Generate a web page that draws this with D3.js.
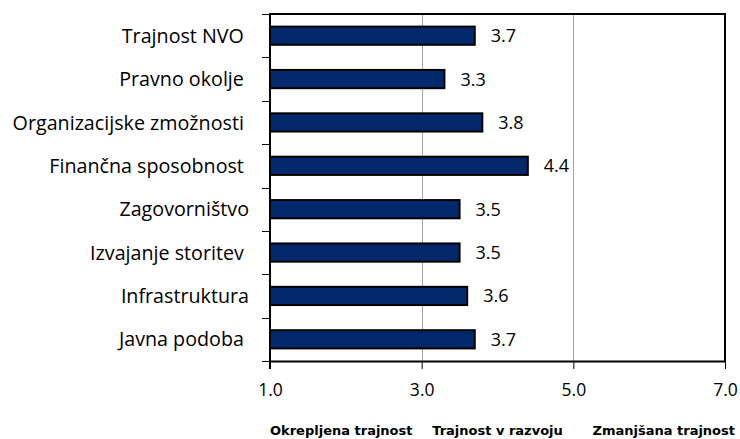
<!DOCTYPE html>
<html>
<head>
<meta charset="utf-8">
<script src="https://cdn.jsdelivr.net/npm/d3@7"></script>
<style>
  html, body { margin: 0; padding: 0; background: #ffffff; }
  svg { display: block; }
  text { font-family: "Open Sans", Lato, sans-serif; fill: #000; }
</style>
</head>
<body>
<svg id="chart" width="740" height="439"></svg>
<script>
// ---- data ----
const categories = [
  "Trajnost NVO ",
  "Pravno okolje ",
  "Organizacijske zmožnosti ",
  "Finančna sposobnost ",
  "Zagovorništvo",
  "Izvajanje storitev ",
  "Infrastruktura",
  "Javna podoba "
];
const values = [3.7, 3.3, 3.8, 4.4, 3.5, 3.5, 3.6, 3.7];
const xTicks = [1.0, 3.0, 5.0, 7.0];
const xDomain = [1, 7];
const bandLabels = ["Okrepljena trajnost", "Trajnost v razvoju", "Zmanjšana trajnost"];

(function () {
  const svg = d3.select("#chart");
  const pLeft = 270, pRight = 725, pTop = 14, pBottom = 361;

  const x = d3.scaleLinear().domain(xDomain).range([pLeft, pRight]);
  const y = d3.scaleBand().domain(categories).range([pTop, pBottom])
    .paddingInner(0.58).paddingOuter(0.29);

  // gridlines (inner ticks)
  svg.append("g")
    .selectAll("line")
    .data(xTicks.filter(t => t > xDomain[0] && t < xDomain[1]))
    .join("line")
    .attr("x1", d => Math.round(x(d)) + 0.5).attr("x2", d => Math.round(x(d)) + 0.5)
    .attr("y1", pTop).attr("y2", pBottom)
    .attr("stroke", "#a6a6a6").attr("stroke-width", 1);

  // frame: top and right
  svg.append("path")
    .attr("d", `M${pLeft},${pTop}H${pRight}V${pBottom}`)
    .attr("fill", "none").attr("stroke", "#000").attr("stroke-width", 2);

  // bars
  svg.append("g")
    .selectAll("rect")
    .data(values)
    .join("rect")
    .attr("x", x(xDomain[0]))
    .attr("y", (d, i) => y(categories[i]))
    .attr("width", d => x(d) - x(xDomain[0]))
    .attr("height", y.bandwidth())
    .attr("fill", "#03296d")
    .attr("stroke", "#000")
    .attr("stroke-width", 2);

  // value labels
  svg.append("g")
    .selectAll("text")
    .data(values)
    .join("text")
    .attr("x", d => x(d) + 16)
    .attr("y", (d, i) => y(categories[i]) + y.bandwidth() / 2)
    .attr("dy", "0.36em")
    .attr("font-size", 18)
    .text(d => d3.format(".1f")(d));

  // x axis
  const xAxis = svg.append("g")
    .attr("transform", `translate(0,${pBottom})`)
    .call(d3.axisBottom(x).tickValues(xTicks).tickFormat(d3.format(".1f")).tickSize(8).tickSizeOuter(0));
  xAxis.select(".domain").attr("stroke", "#000").attr("stroke-width", 2);
  xAxis.selectAll(".tick line").attr("stroke", "#000").attr("stroke-width", 1);
  xAxis.selectAll(".tick text")
    .attr("y", 35).attr("dy", 0)
    .attr("font-size", 17.5)
    .style("font-family", "'Open Sans', Lato, sans-serif")
    .attr("fill", "#000");

  // y axis (left) with ticks at category boundaries
  const yAxisG = svg.append("g");
  yAxisG.append("line")
    .attr("x1", pLeft).attr("x2", pLeft).attr("y1", pTop - 1).attr("y2", pBottom + 8)
    .attr("stroke", "#000").attr("stroke-width", 2);
  const step = y.step();
  const boundaries = d3.range(categories.length + 1).map(i => y.range()[0] + i * step);
  yAxisG.selectAll("line.tk")
    .data(boundaries)
    .join("line")
    .attr("class", "tk")
    .attr("x1", pLeft - 8).attr("x2", pLeft)
    .attr("y1", d => Math.round(d) + 0.5).attr("y2", d => Math.round(d) + 0.5)
    .attr("stroke", "#000").attr("stroke-width", 1);

  // category labels
  svg.append("g")
    .selectAll("text")
    .data(categories)
    .join("text")
    .attr("x", pLeft - 21)
    .attr("y", d => y(d) + y.bandwidth() / 2)
    .attr("dy", "0.36em")
    .attr("text-anchor", "end")
    .attr("font-size", 19.7)
    .style("white-space", "pre")
    .text(d => d);

  // band descriptors under the axis
  const bandPos = [
    { x: x(1), anchor: "start" },
    { x: x(4), anchor: "middle" },
    { x: x(7) + 10, anchor: "end" }
  ];
  svg.append("g")
    .selectAll("text")
    .data(bandLabels)
    .join("text")
    .attr("x", (d, i) => bandPos[i].x)
    .attr("y", 435)
    .attr("text-anchor", (d, i) => bandPos[i].anchor)
    .attr("font-size", 13)
    .attr("font-weight", "bold")
    .style("font-family", "'DejaVu Sans', Verdana, sans-serif")
    .text(d => d);
})();
</script>
</body>
</html>
